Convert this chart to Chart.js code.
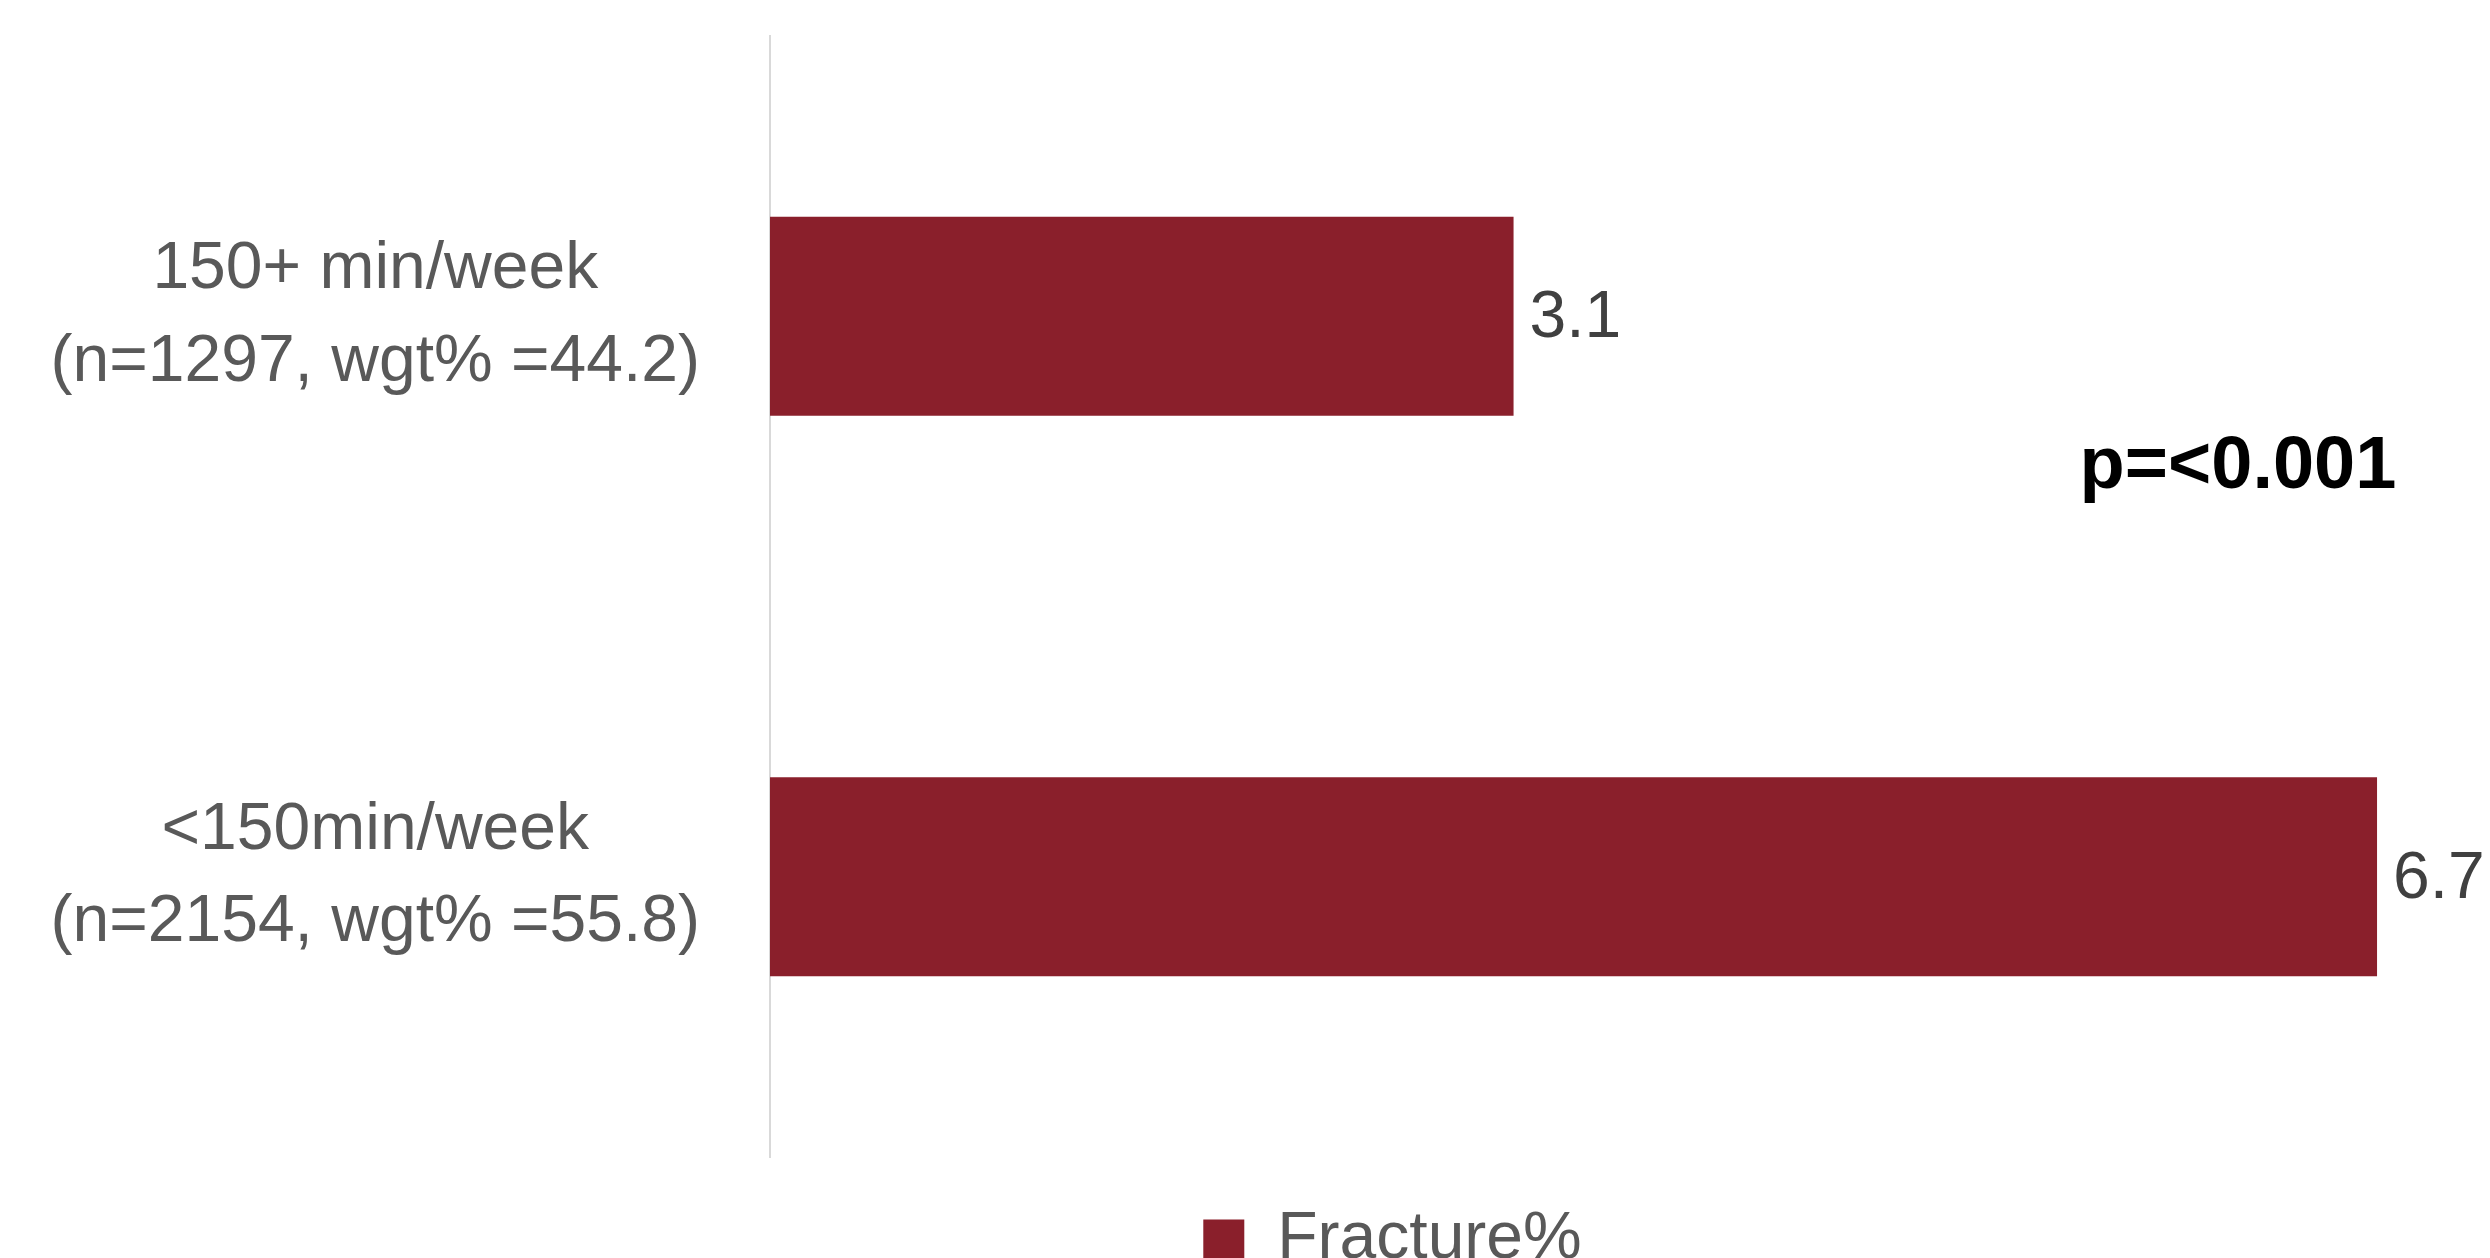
<!DOCTYPE html>
<html>
  <head>
    <meta charset="UTF-8" />
    <title>Fracture% by activity</title>
    <style>
      html,
      body {
        margin: 0;
        padding: 0;
        width: 100%;
        height: 100%;
        overflow: hidden;
        background: #ffffff;
      }
      .chart-container {
        width: 2490px;
        height: 1283px;
        position: relative;
      }
    </style>
    <script src="https://cdn.jsdelivr.net/npm/chart.js"></script>
  </head>
  <body>
    <div class="chart-container">
      <canvas id="chart"></canvas>
    </div>
    <script>
      // data
      const categories = [
        ["150+ min/week", "(n=1297, wgt% =44.2)"],
        ["<150min/week", "(n=2154, wgt% =55.8)"],
      ];
      const fractureValues = [3.1, 6.7];
      const seriesName = "Fracture%";
      const pValueText = "p=<0.001";

      const barColor = "#8a1f2b";
      const labelFont = "'Liberation Sans', Arial, sans-serif";

      // value labels next to each bar + the p-value note
      const barLabels = {
        id: "barLabels",
        afterDatasetsDraw(chart) {
          const ctx = chart.ctx;
          const meta = chart.getDatasetMeta(0);
          ctx.save();
          ctx.font = "66px " + labelFont;
          ctx.fillStyle = "#404040";
          ctx.textAlign = "left";
          ctx.textBaseline = "middle";
          meta.data.forEach((bar, i) => {
            const { x, y } = bar.getProps(["x", "y"], true);
            ctx.fillText(fractureValues[i].toFixed(1), x + 16, y + 3);
          });

          const xs = chart.scales.x;
          const ys = chart.scales.y;
          ctx.font = "bold 74px " + labelFont;
          ctx.fillStyle = "#000000";
          ctx.textBaseline = "alphabetic";
          ctx.fillText(pValueText, xs.getPixelForValue(5.46), ys.getPixelForValue(0.307));
          ctx.restore();
        },
      };

      // legend sits off-centre in the reference
      const legendShift = {
        id: "legendShift",
        afterLayout(chart) {
          if (chart.legend) {
            chart.legend.left += 168;
            chart.legend.right += 168;
          }
        },
      };

      const config = {
        type: "bar",
        data: {
          labels: categories,
          datasets: [
            {
              label: seriesName,
              data: fractureValues,
              backgroundColor: barColor,
              borderWidth: 0,
              categoryPercentage: 1,
              barPercentage: 0.355,
            },
          ],
        },
        options: {
          indexAxis: "y",
          responsive: true,
          maintainAspectRatio: false,
          animation: false,
          layout: {
            padding: { top: 36, right: 41, left: 0, bottom: 0 },
          },
          scales: {
            x: {
              display: false,
              min: 0,
              max: 7,
            },
            y: {
              grid: {
                display: true,
                drawOnChartArea: false,
                drawTicks: false,
              },
              border: {
                display: true,
                color: "#d9d9d9",
                width: 2,
              },
              ticks: {
                crossAlign: "center",
                padding: 70,
                color: "#595959",
                font: { family: labelFont, size: 66, lineHeight: 1.4 },
              },
              afterFit(scale) {
                scale.width = 770;
                scale.paddingTop = 0;
                scale.paddingBottom = 0;
              },
            },
          },
          plugins: {
            legend: {
              position: "bottom",
              labels: {
                boxWidth: 41,
                boxHeight: 41,
                padding: 50,
                color: "#595959",
                font: { family: labelFont, size: 66 },
              },
            },
            tooltip: { enabled: false },
          },
        },
        plugins: [barLabels, legendShift],
      };

      new Chart(document.getElementById("chart").getContext("2d"), config);
    </script>
  </body>
</html>
